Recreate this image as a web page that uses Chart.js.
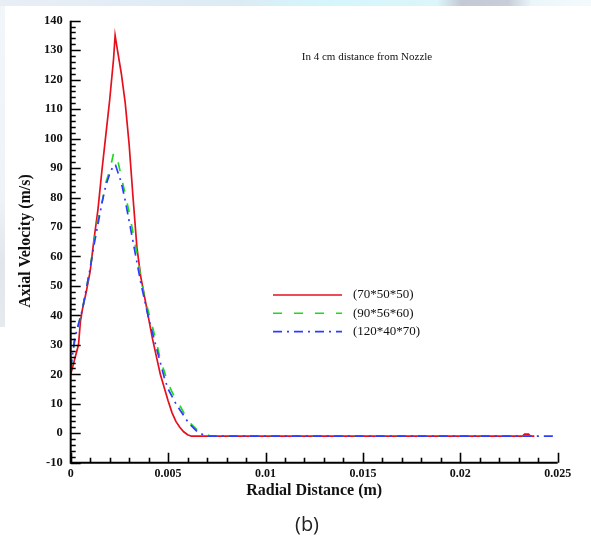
<!DOCTYPE html>
<html lang="en">
<head>
  <meta charset="UTF-8">
  <title>Axial Velocity</title>
  <script src="https://cdn.jsdelivr.net/npm/chart.js"></script>
  <style>
    body { margin: 0; background: #fff; }
    #wrap { position: relative; width: 591px; height: 543px; overflow: hidden; }
    #topband { position: absolute; left: 0; top: 0; width: 591px; height: 6px;
      background: linear-gradient(to right, #e9eef5 0%, #dcebf4 40%, #d4f6fb 55%, #dcf5fa 74%, #c3cad6 78%, #c7ced9 86%, #eaf6fa 90%, #f4fafc 100%); }
    #leftband { position: absolute; left: 0; top: 6px; width: 5px; height: 321px;
      background: linear-gradient(to bottom, #f2f6fa 0%, #eff3f7 60%, #e2e6ec 80%, #e6e9ee 100%); }
    canvas { position: absolute; left: 0; top: 0; }
  </style>
</head>
<body>
<div id="wrap">
  <div id="topband"></div>
  <div id="leftband"></div>
  <canvas id="velChart" width="591" height="543"></canvas>
</div>
<script>
  // series names
  const seriesNames = ['(70*50*50)', '(90*56*60)', '(120*40*70)'];

  // radial distance (m) and axial velocity (m/s)
  const redX = [0, 0.0002, 0.0004, 0.0005, 0.0006, 0.0008, 0.001, 0.0012, 0.0014, 0.0016, 0.0018, 0.002, 0.0022, 0.00228,
    0.0024, 0.0026, 0.0028, 0.003, 0.0032, 0.0034, 0.0036, 0.0038, 0.004, 0.0042, 0.0044, 0.0046, 0.0048, 0.005,
    0.0052, 0.0054, 0.0056, 0.0058, 0.006, 0.0062, 0.0232, 0.0233, 0.0235, 0.0236, 0.0238];
  const redV = [20, 25, 30, 38, 42, 48, 55, 66, 76, 89, 101, 113, 127, 135,
    130, 122, 112, 98, 80, 63, 53, 46, 39, 32, 26, 20, 15.5, 11,
    7, 4, 2, 0.5, -0.5, -1, -1, -0.3, -0.3, -1, -1];

  const greenX = [0, 0.0002, 0.0004, 0.0006, 0.0008, 0.001, 0.0012, 0.0014, 0.0016, 0.0018, 0.002, 0.0022, 0.0023,
    0.0024, 0.0026, 0.0028, 0.003, 0.0032, 0.0034, 0.0036, 0.0038, 0.004, 0.0042, 0.0044, 0.0046, 0.0048, 0.005,
    0.0052, 0.0054, 0.0056, 0.0058, 0.006, 0.0062, 0.0065, 0.0068, 0.007, 0.0072, 0.0238];
  const greenV = [22, 31, 37, 42, 49, 56, 65, 73, 78, 85, 89, 95, 95,
    93, 87, 81, 75, 68, 61, 53, 46, 41, 36, 31, 25, 21, 17,
    14, 11.5, 9.5, 7, 4.5, 3, 1, 0, -0.5, -1, -1];

  const blueX = [0, 0.0002, 0.0004, 0.0006, 0.0008, 0.001, 0.0012, 0.0014, 0.0016, 0.0018, 0.002, 0.0022, 0.0023,
    0.0024, 0.0026, 0.0028, 0.003, 0.0032, 0.0034, 0.0036, 0.0038, 0.004, 0.0042, 0.0044, 0.0046, 0.0048, 0.005,
    0.0052, 0.0054, 0.0056, 0.0058, 0.006, 0.0062, 0.0065, 0.0068, 0.007, 0.0249];
  const blueV = [22, 32, 37, 42, 49, 56, 64, 71, 78, 84, 88, 91, 91,
    89, 85, 79, 72, 65, 58, 51, 45, 39, 34, 29, 24, 19, 15,
    12.5, 10, 8, 6, 4, 2.5, 0.5, -0.5, -1, -1];

  // tick labels
  const xTickLabels = ['0', '0.005', '0.01', '0.015', '0.02', '0.025'];
  const yTickLabels = ['-10', '0', '10', '20', '30', '40', '50', '60', '70', '80', '90', '100', '110', '120', '130', '140'];

  const toPoints = (xs, vs) => xs.map((x, i) => ({ x: x, y: vs[i] }));

  const lineColors = ['#e5101c', '#1fd81f', '#2f3cff'];
  const lineDash = [[], [9, 12], [9, 5, 2, 5]];

  // axes lines, inward ticks, titles and legend
  const decorPlugin = {
    id: 'decor',
    afterDraw(chart) {
      const ctx = chart.ctx;
      const xs = chart.scales.x, ys = chart.scales.y;
      const x0 = xs.getPixelForValue(0), x1 = xs.getPixelForValue(0.025);
      const y0 = ys.getPixelForValue(-10), y1 = ys.getPixelForValue(140);
      ctx.save();
      ctx.strokeStyle = '#000';
      ctx.lineWidth = 2;
      ctx.beginPath();
      ctx.moveTo(x0, y1); ctx.lineTo(x0, y0); ctx.lineTo(x1, y0);
      ctx.stroke();

      ctx.lineWidth = 1.6;
      ctx.beginPath();
      for (let v = -10; v <= 140; v += 2) {
        const py = Math.round(ys.getPixelForValue(v)) + 0.5;
        const len = (v % 10 === 0) ? 10 : 5;
        ctx.moveTo(x0, py); ctx.lineTo(x0 + len, py);
      }
      for (let i = 0; i <= 25; i++) {
        const px = Math.round(xs.getPixelForValue(i * 0.001)) + 0.5;
        const len = (i % 5 === 0) ? 10 : 5;
        ctx.moveTo(px, y0); ctx.lineTo(px, y0 - len);
      }
      ctx.stroke();

      // titles
      ctx.fillStyle = '#111';
      ctx.textAlign = 'center';
      ctx.textBaseline = 'middle';
      ctx.font = 'bold 16px "Liberation Serif"';
      ctx.fillText('Radial Distance (m)', (x0 + x1) / 2, 491);
      ctx.save();
      ctx.translate(26, 241);
      ctx.rotate(-Math.PI / 2);
      ctx.fillText('Axial Velocity (m/s)', 0, 0);
      ctx.restore();

      ctx.font = '11px "Liberation Serif"';
      ctx.fillText('In 4 cm distance from Nozzle', 367, 57);

      ctx.font = '20px "Open Sans"';
      ctx.fillStyle = '#222';
      ctx.fillText('(b)', 307, 525);

      // legend
      ctx.font = '13px "Liberation Serif"';
      ctx.textAlign = 'left';
      ctx.fillStyle = '#111';
      seriesNames.forEach((name, i) => {
        const ly = 295 + i * 18.3;
        ctx.strokeStyle = lineColors[i];
        ctx.lineWidth = 1.6;
        ctx.setLineDash(lineDash[i]);
        ctx.beginPath();
        ctx.moveTo(273, ly); ctx.lineTo(342, ly);
        ctx.stroke();
        ctx.setLineDash([]);
        ctx.fillText(name, 353, ly);
      });
      ctx.restore();
    }
  };

  const ctx = document.getElementById('velChart').getContext('2d');
  new Chart(ctx, {
    type: 'line',
    data: {
      datasets: [
        { label: seriesNames[0], data: toPoints(redX, redV), borderColor: lineColors[0], borderWidth: 1.7, borderDash: lineDash[0], order: 3 },
        { label: seriesNames[1], data: toPoints(greenX, greenV), borderColor: lineColors[1], borderWidth: 1.7, borderDash: lineDash[1], order: 2 },
        { label: seriesNames[2], data: toPoints(blueX, blueV), borderColor: lineColors[2], borderWidth: 1.7, borderDash: lineDash[2], order: 1 }
      ]
    },
    options: {
      responsive: false,
      animation: false,
      events: [],
      layout: { padding: { left: 0, right: 33.3, top: 20.7, bottom: 0 } },
      elements: { point: { radius: 0 }, line: { tension: 0, fill: false } },
      plugins: { legend: { display: false }, tooltip: { enabled: false } },
      scales: {
        x: {
          type: 'linear', min: 0, max: 0.025,
          afterFit: s => { s.height = 80.3; },
          afterBuildTicks: s => { s.ticks = xTickLabels.map(t => ({ value: parseFloat(t) })); },
          grid: { display: false, drawTicks: false },
          border: { display: false },
          ticks: { padding: 4, color: '#111', font: { family: 'Liberation Serif', size: 12, weight: 'bold' },
            callback: (v, i) => xTickLabels[i], maxRotation: 0, autoSkip: false }
        },
        y: {
          type: 'linear', min: -10, max: 140,
          afterFit: s => { s.width = 70.7; },
          afterBuildTicks: s => { s.ticks = yTickLabels.map(t => ({ value: parseFloat(t) })); },
          grid: { display: false, drawTicks: false },
          border: { display: false },
          ticks: { padding: 8, color: '#111', font: { family: 'Liberation Serif', size: 12.5, weight: 'bold' },
            callback: (v, i) => yTickLabels[i], autoSkip: false }
        }
      }
    },
    plugins: [decorPlugin]
  });
</script>
</body>
</html>
